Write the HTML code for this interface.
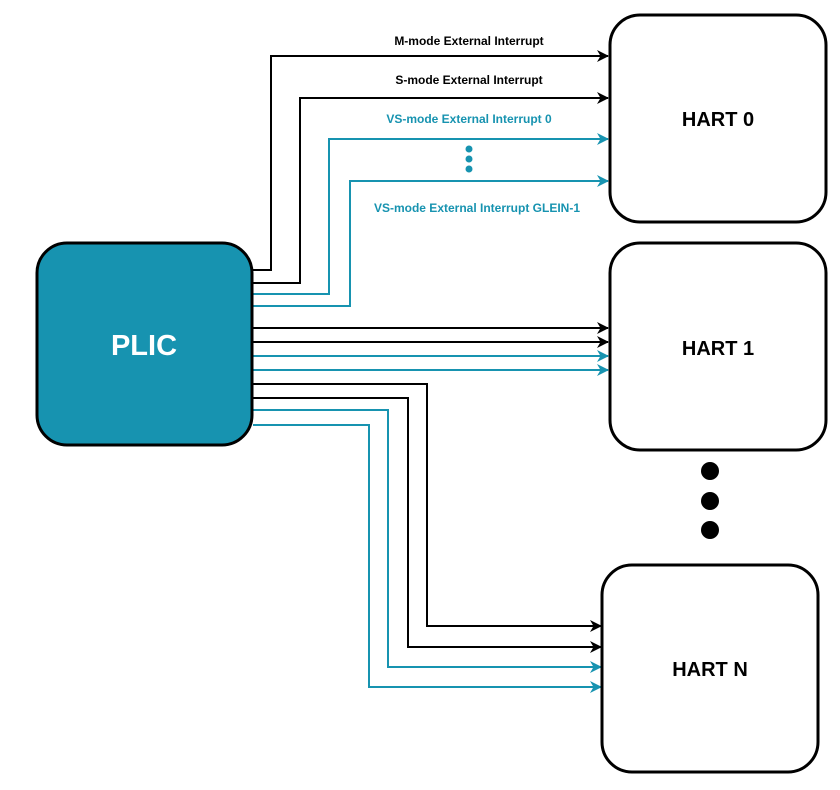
<!DOCTYPE html>
<html><head><style>body{margin:0;background:#fff}svg{display:block}</style></head>
<body>
<svg width="840" height="790" viewBox="0 0 840 790" xmlns="http://www.w3.org/2000/svg" font-family="Liberation Sans, sans-serif" font-weight="bold">
<defs>
<marker id="ak" markerWidth="12" markerHeight="12" refX="11" refY="6" orient="auto" markerUnits="userSpaceOnUse"><path d="M0,0 L12,6 L0,12 L3.5,6 Z" fill="#000"/></marker>
<marker id="at" markerWidth="12" markerHeight="12" refX="11" refY="6" orient="auto" markerUnits="userSpaceOnUse"><path d="M0,0 L12,6 L0,12 L3.5,6 Z" fill="#1793b0"/></marker>
</defs>
<g fill="none" stroke-width="2">
<polyline points="253,270 271,270 271,56 608,56" stroke="#000" marker-end="url(#ak)"/>
<polyline points="253,283 300,283 300,98 608,98" stroke="#000" marker-end="url(#ak)"/>
<polyline points="253,294 329,294 329,139 608,139" stroke="#1793b0" marker-end="url(#at)"/>
<polyline points="253,306 350,306 350,181 608,181" stroke="#1793b0" marker-end="url(#at)"/>
<line x1="253" y1="328" x2="608" y2="328" stroke="#000" marker-end="url(#ak)"/>
<line x1="253" y1="342" x2="608" y2="342" stroke="#000" marker-end="url(#ak)"/>
<line x1="253" y1="356" x2="608" y2="356" stroke="#1793b0" marker-end="url(#at)"/>
<line x1="253" y1="370" x2="608" y2="370" stroke="#1793b0" marker-end="url(#at)"/>
<polyline points="253,384 427,384 427,626 601,626" stroke="#000" marker-end="url(#ak)"/>
<polyline points="253,398 408,398 408,647 601,647" stroke="#000" marker-end="url(#ak)"/>
<polyline points="253,410 388,410 388,667 601,667" stroke="#1793b0" marker-end="url(#at)"/>
<polyline points="253,425 369,425 369,687 601,687" stroke="#1793b0" marker-end="url(#at)"/>
</g>
<rect x="37" y="243" width="215" height="202" rx="30" fill="#1793b0" stroke="#000" stroke-width="3"/>
<text x="144" y="355" font-size="29" fill="#fff" text-anchor="middle">PLIC</text>
<g fill="#fff" stroke="#000" stroke-width="3">
<rect x="610" y="15" width="216" height="207" rx="30"/>
<rect x="610" y="243" width="216" height="207" rx="30"/>
<rect x="602" y="565" width="216" height="207" rx="30"/>
</g>
<g font-size="20" text-anchor="middle" fill="#000">
<text x="718" y="126">HART 0</text>
<text x="718" y="355">HART 1</text>
<text x="710" y="676">HART N</text>
</g>
<g fill="#000"><circle cx="710" cy="471" r="9"/><circle cx="710" cy="501" r="9"/><circle cx="710" cy="530" r="9"/></g>
<g fill="#1793b0"><circle cx="469" cy="149" r="3.5"/><circle cx="469" cy="159" r="3.5"/><circle cx="469" cy="169" r="3.5"/></g>
<g font-size="12" text-anchor="middle">
<text x="469" y="45" fill="#000">M-mode External Interrupt</text>
<text x="469" y="84" fill="#000">S-mode External Interrupt</text>
<text x="469" y="123" fill="#1793b0">VS-mode External Interrupt 0</text>
<text x="477" y="212" fill="#1793b0">VS-mode External Interrupt GLEIN-1</text>
</g>
</svg>
</body></html>
